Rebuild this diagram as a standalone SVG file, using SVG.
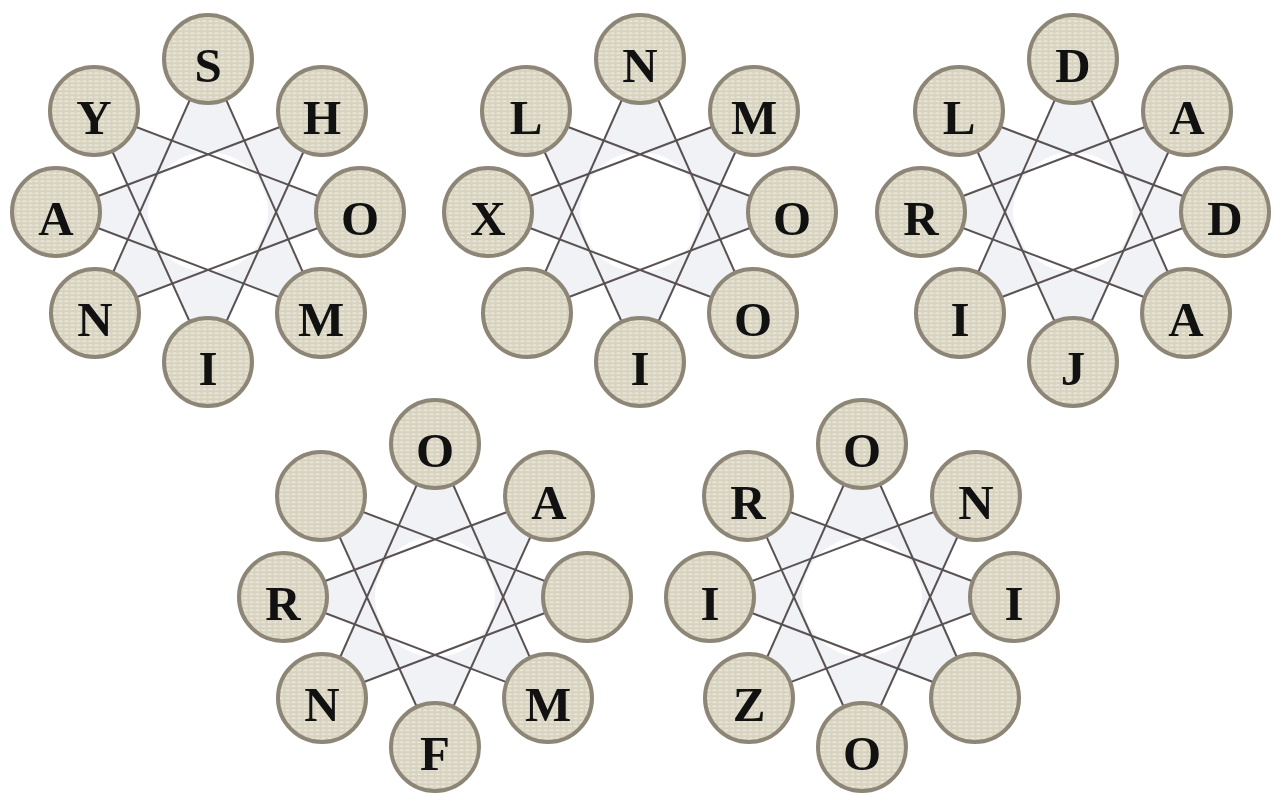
<svg xmlns="http://www.w3.org/2000/svg" width="1281" height="796" viewBox="0 0 1281 796">
<defs>
<pattern id="tex" width="6" height="4" patternUnits="userSpaceOnUse">
<rect width="6" height="4" fill="#d8d3c1"/>
<rect x="0.5" y="0.5" width="4" height="1.6" fill="#ebe7d8"/>
</pattern>
<style>
.bg{fill:#f1f2f6;fill-rule:nonzero}
.hole{fill:#ffffff}
.c{fill:url(#tex);stroke:#8d8576;stroke-width:4}
.ln{stroke:#5a5252;stroke-width:2;fill:none}
.t{font-family:"Liberation Serif","Times New Roman",serif;font-weight:bold;font-size:49px;fill:#111;text-anchor:middle}
</style>
<polygon id="oct" points="0,-153 113,101 -152,0 114,-101 0,150 -114,-101 152,0 -113,101"/>
<g id="star">
<line class="ln" x1="0" y1="-153" x2="113" y2="101"/>
<line class="ln" x1="114" y1="-101" x2="0" y2="150"/>
<line class="ln" x1="152" y1="0" x2="-113" y2="101"/>
<line class="ln" x1="113" y1="101" x2="-152" y2="0"/>
<line class="ln" x1="0" y1="150" x2="-114" y2="-101"/>
<line class="ln" x1="-113" y1="101" x2="0" y2="-153"/>
<line class="ln" x1="-152" y1="0" x2="114" y2="-101"/>
<line class="ln" x1="-114" y1="-101" x2="152" y2="0"/>
</g>
</defs>
<rect width="1281" height="796" fill="#ffffff"/>
<g id="backgrounds">
<use href="#oct" class="bg" x="208" y="212"/><circle class="hole" cx="208" cy="212" r="60"/>
<use href="#oct" class="bg" x="640" y="212"/><circle class="hole" cx="640" cy="212" r="60"/>
<use href="#oct" class="bg" x="1073" y="212"/><circle class="hole" cx="1073" cy="212" r="60"/>
<use href="#oct" class="bg" x="435" y="597"/><circle class="hole" cx="435" cy="597" r="60"/>
<use href="#oct" class="bg" x="862" y="597"/><circle class="hole" cx="862" cy="597" r="60"/>
</g>
<g id="connectors">
<use href="#star" x="208" y="212"/>
<use href="#star" x="640" y="212"/>
<use href="#star" x="1073" y="212"/>
<use href="#star" x="435" y="597"/>
<use href="#star" x="862" y="597"/>
</g>
<g id="wheel1" transform="translate(208,212)">
<g id="w1n0"><circle class="c" cx="0" cy="-153" r="44"/><text class="t" x="0" y="-130">S</text></g>
<g id="w1n1"><circle class="c" cx="114" cy="-101" r="44"/><text class="t" x="114" y="-78">H</text></g>
<g id="w1n2"><circle class="c" cx="152" cy="0" r="44"/><text class="t" x="152" y="23">O</text></g>
<g id="w1n3"><circle class="c" cx="113" cy="101" r="44"/><text class="t" x="113" y="124">M</text></g>
<g id="w1n4"><circle class="c" cx="0" cy="150" r="44"/><text class="t" x="0" y="173">I</text></g>
<g id="w1n5"><circle class="c" cx="-113" cy="101" r="44"/><text class="t" x="-113" y="124">N</text></g>
<g id="w1n6"><circle class="c" cx="-152" cy="0" r="44"/><text class="t" x="-152" y="23">A</text></g>
<g id="w1n7"><circle class="c" cx="-114" cy="-101" r="44"/><text class="t" x="-114" y="-78">Y</text></g>
</g>
<g id="wheel2" transform="translate(640,212)">
<g id="w2n0"><circle class="c" cx="0" cy="-153" r="44"/><text class="t" x="0" y="-130">N</text></g>
<g id="w2n1"><circle class="c" cx="114" cy="-101" r="44"/><text class="t" x="114" y="-78">M</text></g>
<g id="w2n2"><circle class="c" cx="152" cy="0" r="44"/><text class="t" x="152" y="23">O</text></g>
<g id="w2n3"><circle class="c" cx="113" cy="101" r="44"/><text class="t" x="113" y="124">O</text></g>
<g id="w2n4"><circle class="c" cx="0" cy="150" r="44"/><text class="t" x="0" y="173">I</text></g>
<g id="w2n5"><circle class="c" cx="-113" cy="101" r="44"/></g>
<g id="w2n6"><circle class="c" cx="-152" cy="0" r="44"/><text class="t" x="-152" y="23">X</text></g>
<g id="w2n7"><circle class="c" cx="-114" cy="-101" r="44"/><text class="t" x="-114" y="-78">L</text></g>
</g>
<g id="wheel3" transform="translate(1073,212)">
<g id="w3n0"><circle class="c" cx="0" cy="-153" r="44"/><text class="t" x="0" y="-130">D</text></g>
<g id="w3n1"><circle class="c" cx="114" cy="-101" r="44"/><text class="t" x="114" y="-78">A</text></g>
<g id="w3n2"><circle class="c" cx="152" cy="0" r="44"/><text class="t" x="152" y="23">D</text></g>
<g id="w3n3"><circle class="c" cx="113" cy="101" r="44"/><text class="t" x="113" y="124">A</text></g>
<g id="w3n4"><circle class="c" cx="0" cy="150" r="44"/><text class="t" x="0" y="173">J</text></g>
<g id="w3n5"><circle class="c" cx="-113" cy="101" r="44"/><text class="t" x="-113" y="124">I</text></g>
<g id="w3n6"><circle class="c" cx="-152" cy="0" r="44"/><text class="t" x="-152" y="23">R</text></g>
<g id="w3n7"><circle class="c" cx="-114" cy="-101" r="44"/><text class="t" x="-114" y="-78">L</text></g>
</g>
<g id="wheel4" transform="translate(435,597)">
<g id="w4n0"><circle class="c" cx="0" cy="-153" r="44"/><text class="t" x="0" y="-130">O</text></g>
<g id="w4n1"><circle class="c" cx="114" cy="-101" r="44"/><text class="t" x="114" y="-78">A</text></g>
<g id="w4n2"><circle class="c" cx="152" cy="0" r="44"/></g>
<g id="w4n3"><circle class="c" cx="113" cy="101" r="44"/><text class="t" x="113" y="124">M</text></g>
<g id="w4n4"><circle class="c" cx="0" cy="150" r="44"/><text class="t" x="0" y="173">F</text></g>
<g id="w4n5"><circle class="c" cx="-113" cy="101" r="44"/><text class="t" x="-113" y="124">N</text></g>
<g id="w4n6"><circle class="c" cx="-152" cy="0" r="44"/><text class="t" x="-152" y="23">R</text></g>
<g id="w4n7"><circle class="c" cx="-114" cy="-101" r="44"/></g>
</g>
<g id="wheel5" transform="translate(862,597)">
<g id="w5n0"><circle class="c" cx="0" cy="-153" r="44"/><text class="t" x="0" y="-130">O</text></g>
<g id="w5n1"><circle class="c" cx="114" cy="-101" r="44"/><text class="t" x="114" y="-78">N</text></g>
<g id="w5n2"><circle class="c" cx="152" cy="0" r="44"/><text class="t" x="152" y="23">I</text></g>
<g id="w5n3"><circle class="c" cx="113" cy="101" r="44"/></g>
<g id="w5n4"><circle class="c" cx="0" cy="150" r="44"/><text class="t" x="0" y="173">O</text></g>
<g id="w5n5"><circle class="c" cx="-113" cy="101" r="44"/><text class="t" x="-113" y="124">Z</text></g>
<g id="w5n6"><circle class="c" cx="-152" cy="0" r="44"/><text class="t" x="-152" y="23">I</text></g>
<g id="w5n7"><circle class="c" cx="-114" cy="-101" r="44"/><text class="t" x="-114" y="-78">R</text></g>
</g>
</svg>
